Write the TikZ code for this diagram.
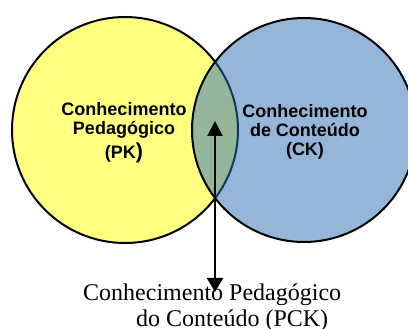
\documentclass[tikz,border=0pt]{standalone}
\usepackage{fontspec}
\setmainfont{Liberation Serif}
\newfontfamily\labelfont{Liberation Sans}
\usetikzlibrary{arrows.meta}
\definecolor{pkyellow}{RGB}{255,255,128}
\definecolor{ckblue}{RGB}{43,110,180}
\begin{document}
\begin{tikzpicture}[x=1pt,y=-1pt,
  venn/.style={circle,draw=black,line width=2pt,inner sep=0pt},
  lbl/.style={font=\labelfont\bfseries\fontsize{18}{19}\selectfont,align=center,inner sep=0pt,anchor=north},
  conn/.style={line width=2pt,{Triangle[length=15pt,width=15pt]}-{Triangle[length=14pt,width=16pt]}},
  caption/.style={font=\fontsize{24}{26}\selectfont,align=left,anchor=north west,inner sep=0pt}]
\useasboundingbox (0,0) rectangle (408,329);
\begin{scope}
\clip (0,0) rectangle (408,329);
\node[venn,fill=pkyellow,minimum size=226pt] (pk) at (125,130) {};
\node[venn,fill=ckblue,fill opacity=0.5,draw opacity=1,minimum size=224pt] (ck) at (304,130) {};
\end{scope}
\node[lbl] (pklbl) at (124,102) {Conhecimento\\Pedagógico\\[3.5pt](PK{\fontsize{21.5}{21.5}\selectfont )}};
\node[lbl] (cklbl) at (305,104) {Conhecimento\\de Conteúdo\\(CK)};
\coordinate (ptop) at (215,121);
\coordinate (pbot) at (215,292);
\draw[conn] (ptop) -- (pbot);
\node[caption] (pck) at (83,284) {Conhecimento Pedagógico\\\hspace*{53pt}do Conteúdo (PCK)};
\end{tikzpicture}
\end{document}
